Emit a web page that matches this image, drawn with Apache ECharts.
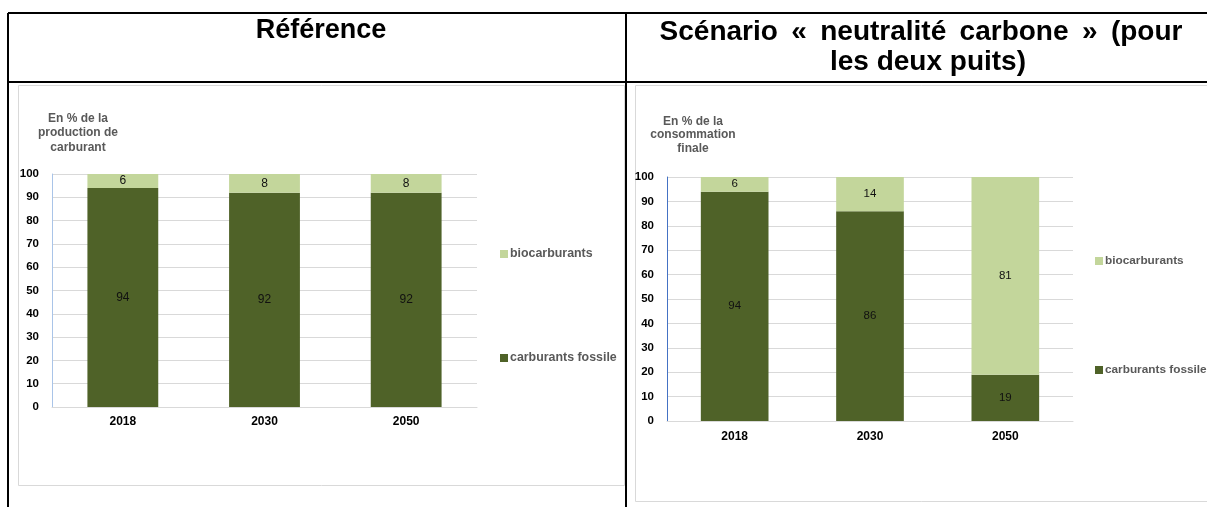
<!DOCTYPE html>
<html>
<head>
<meta charset="utf-8">
<script src="https://cdn.jsdelivr.net/npm/echarts@6/dist/echarts.min.js"></script>
<style>
  html, body { margin: 0; padding: 0; background: #fff; }
  #chart { width: 1207px; height: 507px; }
</style>
</head>
<body>
<div id="chart"></div>
<script>
// Share of fuels, in %, for each year
const years = ['2018', '2030', '2050'];
const seriesNames = ['biocarburants', 'carburants fossile'];

// "Référence" scenario (share of fuel production)
const refFossil = [94, 92, 92];
const refBio = [6, 8, 8];

// "Neutralité carbone" scenario (share of final consumption)
const ncFossil = [94, 86, 19];
const ncBio = [6, 14, 81];

const yTicks = { min: 0, max: 100, interval: 10 };

const leftTitle = 'Référence';
// first heading line is justified across the cell, so its word gaps are a little wider
const rightTitle1 = 'Scénario \u2009« \u2009neutralité \u2009carbone \u2009» \u2009(pour';
const rightTitle2 = 'les deux puits)';
const leftUnit = 'En % de la\nproduction de\ncarburant';
const rightUnit = 'En % de la\nconsommation\nfinale';

const FONT = '"Liberation Sans", Arial, sans-serif';
const FOSSIL = '#4F6228';
const BIO = '#C3D69B';
const GRID_LINE = '#D9D9D9';
const LEGEND_TEXT = '#595959';

function yAxis(gridIndex, axisColor) {
  return {
    type: 'value', gridIndex,
    min: yTicks.min, max: yTicks.max, interval: yTicks.interval,
    axisLine: { show: true, lineStyle: { color: axisColor, width: 1 } },
    axisTick: { show: false },
    splitLine: { lineStyle: { color: GRID_LINE, width: 1 } },
    axisLabel: { color: '#000', fontFamily: FONT, fontWeight: 'bold', fontSize: 11.5, margin: 13 }
  };
}

function xAxis(gridIndex, margin) {
  return {
    type: 'category', gridIndex, data: years,
    axisLine: { show: true, lineStyle: { color: GRID_LINE, width: 1 } },
    axisTick: { show: false },
    axisLabel: { color: '#000', fontFamily: FONT, fontWeight: 'bold', fontSize: 12, margin }
  };
}

function bar(name, data, color, axisIndex, stack, fontSize) {
  return {
    type: 'bar', name, data, stack,
    xAxisIndex: axisIndex, yAxisIndex: axisIndex,
    barWidth: '50%',
    itemStyle: { color },
    label: {
      show: true, position: 'inside', color: '#111',
      fontFamily: FONT, fontSize
    },
    emphasis: { disabled: true },
    animation: false
  };
}

function legend(left, top, itemGap, fontSize) {
  return {
    data: seriesNames, orient: 'vertical', left, top, itemGap,
    padding: 0,
    itemWidth: 8, itemHeight: 8, icon: 'rect',
    selectedMode: false,
    textStyle: {
      color: LEGEND_TEXT, fontFamily: FONT, fontWeight: 'bold',
      fontSize, lineHeight: 14, padding: [0, 0, 0, -3]
    }
  };
}

function line(x1, y1, x2, y2) {
  return { type: 'line', shape: { x1, y1, x2, y2 }, style: { stroke: '#000', lineWidth: 2 }, z: 10 };
}

function text(x, y, str, size, color, lh) {
  return {
    type: 'text', x, y, z: 10,
    style: {
      text: str, fill: color, font: 'bold ' + size + 'px ' + FONT,
      textAlign: 'center', textVerticalAlign: 'middle', lineHeight: lh
    }
  };
}

const chart = echarts.init(document.getElementById('chart'), null, { renderer: 'canvas' });

chart.setOption({
  backgroundColor: '#fff',
  animation: false,
  grid: [
    { left: 52, top: 174, width: 425, height: 233 },
    { left: 667, top: 177, width: 406, height: 244 }
  ],
  xAxis: [xAxis(0, 9), xAxis(1, 10)],
  yAxis: [yAxis(0, '#A9C4E8'), yAxis(1, '#4472C4')],
  legend: [legend(500, 247, 90, 12.4), legend(1095, 254, 95, 11.8)],
  series: [
    bar('carburants fossile', refFossil, FOSSIL, 0, 'ref', 12),
    bar('biocarburants', refBio, BIO, 0, 'ref', 12),
    bar('carburants fossile', ncFossil, FOSSIL, 1, 'nc', 11.5),
    bar('biocarburants', ncBio, BIO, 1, 'nc', 11.5)
  ],
  graphic: [
    // chart cards
    { type: 'rect', shape: { x: 18.5, y: 85.5, width: 606, height: 400 }, style: { fill: '#fff', stroke: GRID_LINE, lineWidth: 1 }, z: -10, silent: true },
    { type: 'rect', shape: { x: 635.5, y: 85.5, width: 580, height: 416 }, style: { fill: '#fff', stroke: GRID_LINE, lineWidth: 1 }, z: -10, silent: true },
    // table borders
    line(8, 13, 1207, 13),
    line(8, 13, 8, 507),
    line(8, 82, 1207, 82),
    line(626, 13, 626, 507),
    // column headings
    text(321, 31, leftTitle, 27, '#000', 30),
    text(921, 32, rightTitle1, 28, '#000', 30),
    text(928, 62, rightTitle2, 28, '#000', 30),
    // value-axis units
    text(78, 133, leftUnit, 12, LEGEND_TEXT, 14.5),
    text(693, 135, rightUnit, 12, LEGEND_TEXT, 13.5)
  ]
});
</script>
</body>
</html>
